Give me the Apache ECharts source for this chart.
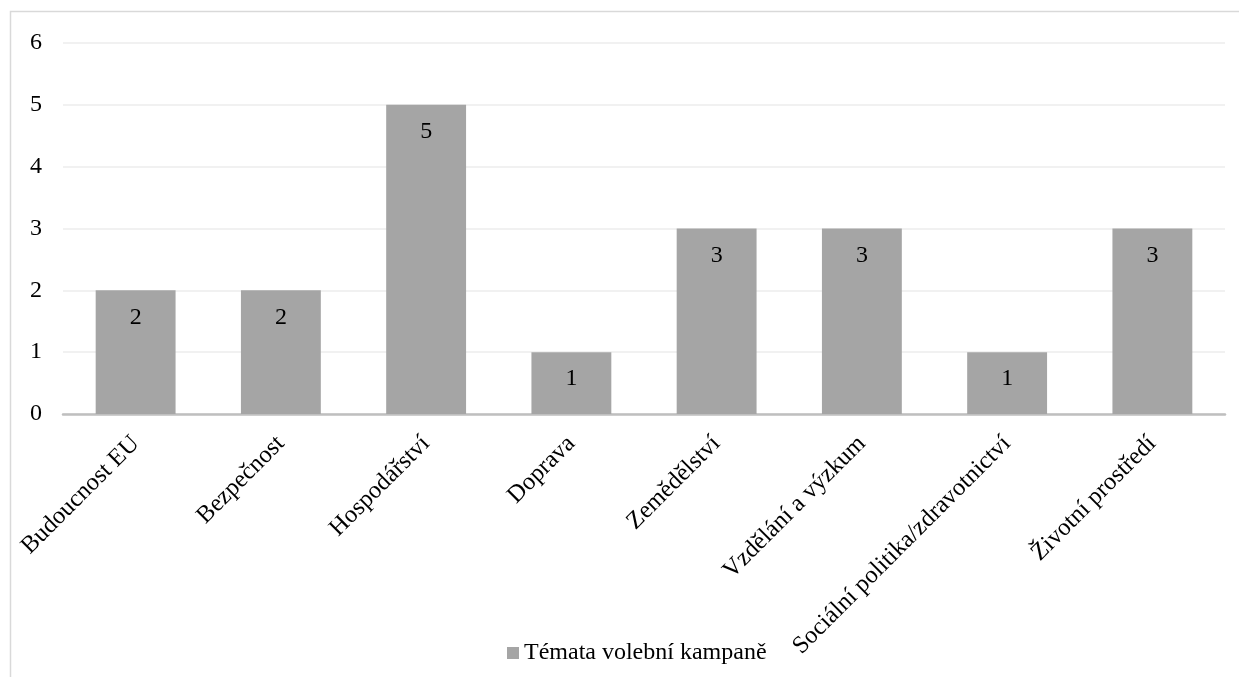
<!DOCTYPE html>
<html>
<head>
<meta charset="utf-8">
<script src="https://cdn.jsdelivr.net/npm/echarts@6/dist/echarts.min.js"></script>
<style>
  html, body { margin: 0; padding: 0; background: #fff; }
  #chart { width: 1239px; height: 677px; }
</style>
</head>
<body>
<div id="chart"></div>
<script>
// Campaign topics and the number of mentions of each
const categories = [
  'Budoucnost EU',
  'Bezpečnost',
  'Hospodářství',
  'Doprava',
  'Zemědělství',
  'Vzdělání a výzkum',
  'Sociální politika/zdravotnictví',
  'Životní prostředí'
];
const counts = [2, 2, 5, 1, 3, 3, 1, 3];
const seriesName = 'Témata volební kampaně';

const serif = '"Liberation Serif", "DejaVu Serif", serif';
const chart = echarts.init(document.getElementById('chart'));

chart.setOption({
  backgroundColor: '#ffffff',
  animation: false,
  textStyle: { fontFamily: serif },
  graphic: [
    {
      type: 'polyline',
      silent: true,
      shape: { points: [[10.5, 677], [10.5, 11.5], [1239, 11.5]] },
      style: { stroke: '#d9d9d9', lineWidth: 1.5, fill: null }
    }
  ],
  grid: { left: 63, right: 14, top: 43, bottom: 263, containLabel: false },
  legend: {
    left: 502,
    top: 636,
    itemWidth: 12,
    itemHeight: 12,
    itemGap: 6,
    icon: 'rect',
    textStyle: { fontFamily: serif, fontSize: 24, color: '#000' },
    data: [seriesName]
  },
  xAxis: {
    type: 'category',
    data: categories,
    axisLine: { lineStyle: { color: '#bfbfbf', width: 2.5 } },
    axisTick: { show: false },
    axisLabel: {
      interval: 0,
      rotate: 45,
      margin: 26,
      fontFamily: serif,
      fontSize: 24.5,
      color: '#000'
    }
  },
  yAxis: {
    type: 'value',
    min: 0,
    max: 6,
    interval: 1,
    axisLine: { show: false },
    axisTick: { show: false },
    axisLabel: { margin: 21, fontFamily: serif, fontSize: 24, color: '#000' },
    splitLine: { lineStyle: { color: '#ececec', width: 1.5 } }
  },
  series: [
    {
      name: seriesName,
      type: 'bar',
      data: counts,
      barWidth: '55%',
      itemStyle: { color: '#a5a5a5' },
      label: {
        show: true,
        position: 'insideTop',
        distance: 15,
        fontFamily: serif,
        fontSize: 24,
        color: '#000'
      }
    }
  ]
});
</script>
</body>
</html>
